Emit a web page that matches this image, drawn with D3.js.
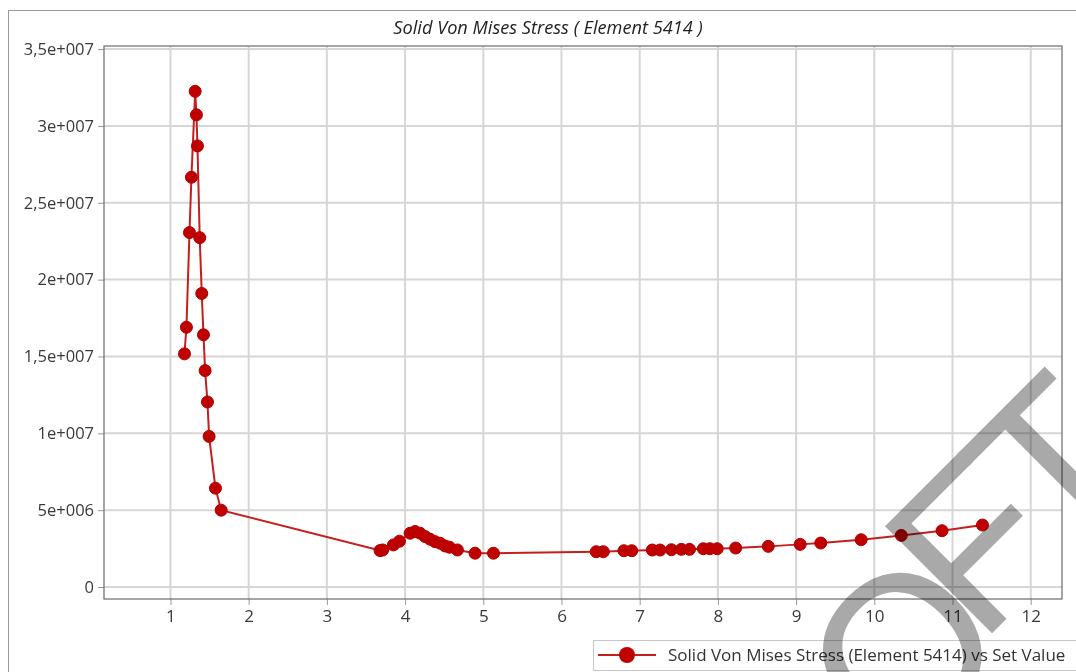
<!DOCTYPE html>
<html>
<head>
<meta charset="utf-8">
<script src="https://cdn.jsdelivr.net/npm/d3@7"></script>
<style>
  html, body { margin: 0; padding: 0; background: #fff; }
  svg { display: block; }
</style>
</head>
<body>
<svg id="chart" width="1076" height="672"></svg>
<script>
// ---- data ----
const chartTitle = "Solid  Von Mises Stress ( Element 5414 )";
const seriesName = "Solid Von Mises Stress (Element 5414) vs Set Value";
const setValues = [
  1.179, 1.204, 1.243, 1.268, 1.316, 1.332, 1.345, 1.374, 1.400, 1.422, 1.443, 1.473, 1.494, 1.575, 1.648,
  3.680, 3.714, 3.851, 3.928, 4.064, 4.128, 4.192, 4.256, 4.320, 4.384, 4.448, 4.512, 4.567, 4.669, 4.895, 5.130,
  6.444, 6.535, 6.798, 6.898, 7.161, 7.261, 7.406, 7.533, 7.637, 7.814, 7.896, 7.991, 8.227, 8.644, 9.052,
  9.315, 9.832, 10.345, 10.866, 11.383
];
const stressValues = [
  1.517e7, 1.690e7, 2.306e7, 2.666e7, 3.225e7, 3.072e7, 2.870e7, 2.273e7, 1.910e7, 1.641e7, 1.408e7, 1.204e7, 0.980e7, 0.643e7, 0.500e7,
  2.37e6, 2.41e6, 2.74e6, 2.98e6, 3.50e6, 3.61e6, 3.50e6, 3.28e6, 3.11e6, 2.95e6, 2.85e6, 2.67e6, 2.59e6, 2.41e6, 2.20e6, 2.20e6,
  2.297e6, 2.297e6, 2.362e6, 2.362e6, 2.406e6, 2.406e6, 2.427e6, 2.449e6, 2.449e6, 2.492e6, 2.492e6, 2.492e6, 2.536e6, 2.644e6, 2.774e6,
  2.861e6, 3.078e6, 3.359e6, 3.663e6, 4.031e6
];
const xTickValues = [1, 2, 3, 4, 5, 6, 7, 8, 9, 10, 11, 12];
const yTickValues = [0, 5e6, 1e7, 1.5e7, 2e7, 2.5e7, 3e7, 3.5e7];
const yTickLabels = ["0", "5e+006", "1e+007", "1,5e+007", "2e+007", "2,5e+007", "3e+007", "3,5e+007"];
const watermarkParts = ["SO", "F", "T"];

const points = setValues.map((x, i) => ({ x, y: stressValues[i] }));

// ---- layout ----
const svg = d3.select("#chart");
const plot = { left: 104, top: 46, right: 1062, bottom: 599 };
const FONT = "'Open Sans', 'Noto Sans', sans-serif";
const RED = "#c00000";

const x = d3.scaleLinear().domain([0.15, 12.40]).range([plot.left, plot.right]);
const y = d3.scaleLinear().domain([-0.78e6, 3.52e7]).range([plot.bottom, plot.top]);

// outer frame
svg.append("rect")
  .attr("x", 8.5).attr("y", 10.5).attr("width", 1100).attr("height", 700)
  .attr("fill", "#fff").attr("stroke", "#9a9a9a");

// title
svg.append("text")
  .attr("x", 548).attr("y", 34)
  .attr("text-anchor", "middle")
  .attr("font-family", FONT).attr("font-style", "italic").attr("font-size", 18.2)
  .attr("fill", "#222")
  .text(chartTitle);

// grid
const grid = svg.append("g");
grid.selectAll("line.v").data(xTickValues).join("line")
  .attr("x1", d => x(d)).attr("x2", d => x(d))
  .attr("y1", plot.top).attr("y2", plot.bottom)
  .attr("stroke", "#d6d6d6").attr("stroke-width", 2);
grid.selectAll("line.h").data(yTickValues).join("line")
  .attr("x1", plot.left).attr("x2", plot.right)
  .attr("y1", d => y(d)).attr("y2", d => y(d))
  .attr("stroke", "#d6d6d6").attr("stroke-width", 2);

// axes
const yAxis = d3.axisLeft(y).tickValues(yTickValues)
  .tickFormat((d, i) => yTickLabels[i]).tickSize(6).tickPadding(4);
const xAxis = d3.axisBottom(x).tickValues(xTickValues)
  .tickFormat(d3.format("d")).tickSize(6).tickPadding(5);

const gy = svg.append("g").attr("transform", `translate(${plot.left},0)`).call(yAxis);
const gx = svg.append("g").attr("transform", `translate(0,${plot.bottom})`).call(xAxis);
[gx, gy].forEach(g => {
  g.select(".domain").remove();
  g.selectAll(".tick line").attr("stroke", "#9a9a9a");
  g.selectAll(".tick text").attr("font-family", FONT).attr("fill", "#3a3a3a");
});
gy.selectAll(".tick text").attr("font-size", 16.5);
gx.selectAll(".tick text").attr("font-size", 17);

// plot frame
svg.append("rect")
  .attr("x", plot.left).attr("y", plot.top)
  .attr("width", plot.right - plot.left).attr("height", plot.bottom - plot.top)
  .attr("fill", "none").attr("stroke", "#6a6a6a").attr("stroke-width", 1.2);

// series
const line = d3.line().x(d => x(d.x)).y(d => y(d.y));
svg.append("path").datum(points)
  .attr("d", line).attr("fill", "none")
  .attr("stroke", "#c41e1e").attr("stroke-width", 2);
svg.append("g").selectAll("circle").data(points).join("circle")
  .attr("cx", d => x(d.x)).attr("cy", d => y(d.y)).attr("r", 6)
  .attr("fill", RED).attr("stroke", "#b00000").attr("stroke-width", 1);

// legend
const lg = svg.append("g");
lg.append("rect").attr("x", 593.5).attr("y", 640.5).attr("width", 520).attr("height", 30)
  .attr("fill", "#fff").attr("stroke", "#c6c6c6");
lg.append("line").attr("x1", 598).attr("x2", 656).attr("y1", 655).attr("y2", 655)
  .attr("stroke", "#c41e1e").attr("stroke-width", 2);
lg.append("circle").attr("cx", 627).attr("cy", 655).attr("r", 8).attr("fill", RED);
lg.append("text").attr("x", 668).attr("y", 661)
  .attr("font-family", FONT).attr("font-size", 17).attr("fill", "#333")
  .text(seriesName);

// watermark (diagonal text, cut by the page edge as in the reference)
const wm = svg.append("text")
  .attr("transform", "translate(792,870) rotate(-45)")
  .attr("font-family", "'Liberation Sans', Arial, sans-serif")
  .attr("font-size", 220)
  .attr("fill", "#a9a9a9")
  .style("mix-blend-mode", "multiply");
const wmDx = [0, -27, -20];
const wmDy = [0, -26, 0];
wm.selectAll("tspan").data(watermarkParts).join("tspan")
  .attr("dx", (d, i) => wmDx[i])
  .attr("dy", (d, i) => wmDy[i])
  .text(d => d);
</script>
</body>
</html>
